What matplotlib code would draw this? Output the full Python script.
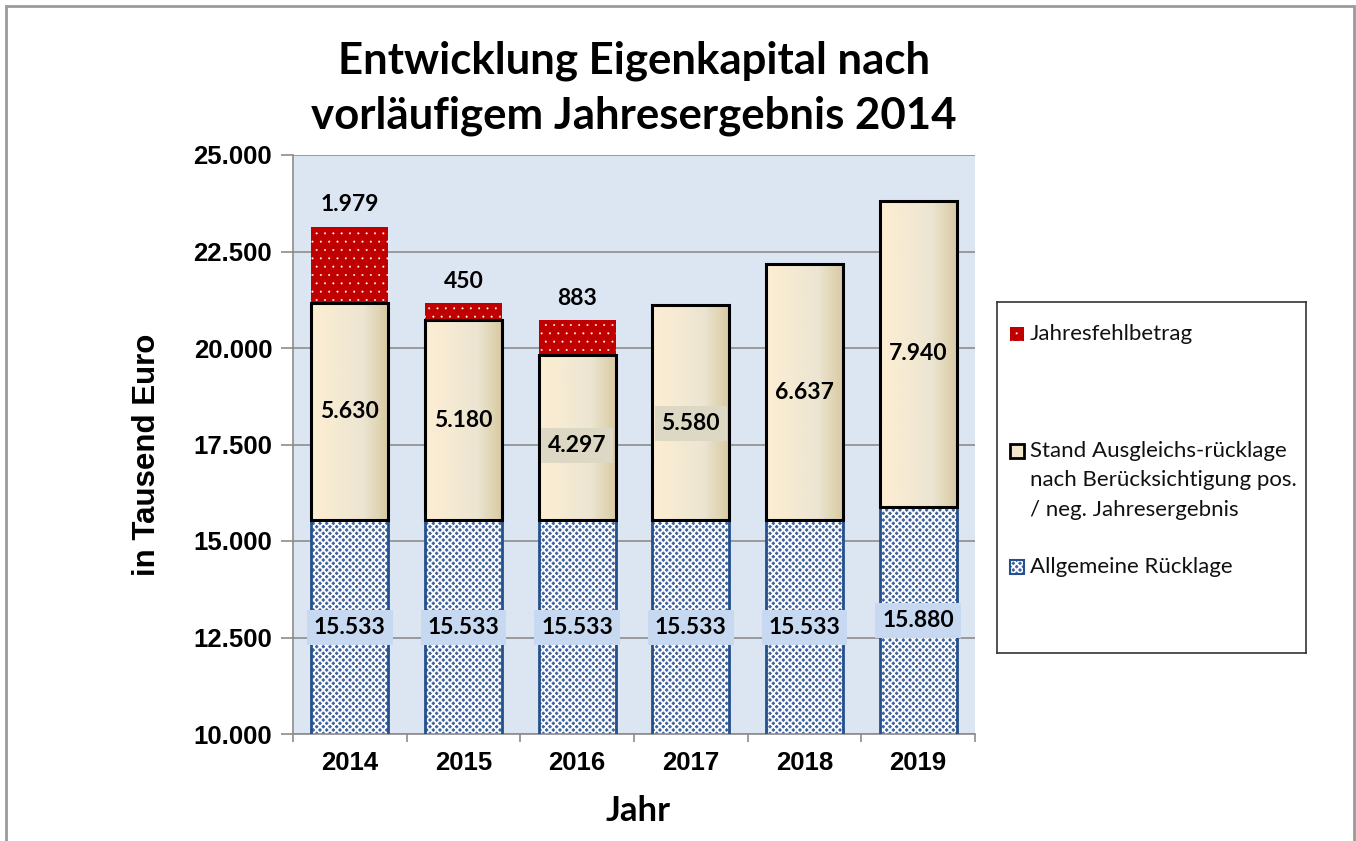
import numpy as np
import matplotlib
matplotlib.use("Agg")
import matplotlib.pyplot as plt
from matplotlib.patches import Rectangle
from matplotlib.ticker import FuncFormatter, FixedLocator
from matplotlib.colors import LinearSegmentedColormap
from matplotlib.transforms import offset_copy

# ---------------- data ----------------
years = ["2014", "2015", "2016", "2017", "2018", "2019"]
allgemeine = [15533, 15533, 15533, 15533, 15533, 15880]
ausgleich = [5630, 5180, 4297, 5580, 6637, 7940]
fehlbetrag = [1979, 450, 883, 0, 0, 0]
legend_labels = ["Jahresfehlbetrag",
                 "Stand Ausgleichs-rücklage\nnach Berücksichtigung pos.\n/ neg. Jahresergebnis",
                 "Allgemeine Rücklage"]
title_lines = ["Entwicklung Eigenkapital nach", "vorläufigem Jahresergebnis 2014"]
ylabel = "in Tausend Euro"
xlabel = "Jahr"
ymin, ymax, ystep = 10000, 25000, 2500

# ---------------- style ----------------
W, H = 1356, 841
CAL = ["Lato", "DejaVu Sans"]
ARI = ["Liberation Sans", "DejaVu Sans"]
red = "#c00000"
blue_face = "#3f62a0"
blue_edge = "#24508c"
bg = "#dce6f2"
grid_c = "#8c8c8c"
ausg_label_offset_px = [0, 0, 8, 11, 0, 0]   # manual label shifts (downwards)
ausg_label_box = [None, None, "#dcd8c3", "#dcd8c3", None, None]

fig = plt.figure(figsize=(W / 100, H / 100), dpi=100)
fig.patch.set_facecolor("white")

def fx(px):
    return px / W

def fy(py):
    return 1 - py / H

# outer border
fig.patches.append(Rectangle((fx(6), fy(845)), fx(1354) - fx(6), fy(6) - fy(845),
                             transform=fig.transFigure, fill=False,
                             edgecolor="#9a9a9a", linewidth=2))

ax = fig.add_axes([fx(293), fy(734), fx(975) - fx(293), fy(155) - fy(734)])
ax.set_facecolor(bg)
ax.set_axisbelow(True)

x = np.arange(len(years))
bw = 0.68
allg = np.array(allgemeine)
ausg = np.array(ausgleich)
fehl = np.array(fehlbetrag)

# Allgemeine Rücklage: patterned blue
plt.rcParams["hatch.linewidth"] = 1.3
ax.bar(x, allg, bw, color=blue_face, edgecolor="white", linewidth=0,
       hatch="xxxxx", zorder=2)
ax.bar(x, allg, bw, fill=False, edgecolor=blue_edge, linewidth=2, zorder=4)

# Ausgleichsrücklage: horizontal gradient
grad_cmap = LinearSegmentedColormap.from_list(
    "beige", ["#fdeed2", "#f5ead2", "#ece5d2", "#d8c9a0"])
ausg_bars = ax.bar(x, ausg, bw, bottom=allg, facecolor="none",
                   edgecolor="black", linewidth=2.2, zorder=4)
grad = np.linspace(0, 1, 256).reshape(1, -1)
for b in ausg_bars:
    im = ax.imshow(grad, cmap=grad_cmap, aspect="auto", zorder=3,
                   extent=(b.get_x(), b.get_x() + b.get_width(),
                           b.get_y(), b.get_y() + b.get_height()),
                   interpolation="bilinear")
    im.set_clip_path(b)

# Jahresfehlbetrag: red dotted
plt.rcParams["hatch.linewidth"] = 0.2
ax.bar(x, fehl, bw, bottom=allg + ausg, color=red, edgecolor="white",
       linewidth=0, hatch="..", zorder=2)

ax.set_xlim(-0.5, len(years) - 0.5)
ax.set_ylim(ymin, ymax)

# axes styling
for s in ["top", "right"]:
    ax.spines[s].set_visible(False)
for s in ["left", "bottom"]:
    ax.spines[s].set_color(grid_c)
    ax.spines[s].set_linewidth(1.2)

ax.yaxis.set_major_locator(FixedLocator(np.arange(ymin, ymax + 1, ystep)))
ax.yaxis.set_major_formatter(FuncFormatter(lambda v, p: f"{v:,.0f}".replace(",", ".")))
ax.grid(axis="y", color=grid_c, linewidth=1.2)
ax.tick_params(axis="y", length=9, width=1.2, color=grid_c, pad=6)
for lab in ax.get_yticklabels():
    lab.set_fontfamily(ARI)
    lab.set_fontweight("bold")
    lab.set_fontsize(18.5)

ax.set_xticks(x)
ax.set_xticklabels(years, fontfamily=ARI, fontweight="bold", fontsize=18.5)
ax.set_xticks(np.arange(-0.5, len(years), 1), minor=True)
ax.tick_params(axis="x", which="major", length=0, pad=12)
ax.tick_params(axis="x", which="minor", length=6, width=1.2, color=grid_c)

fig.text(fx(147), fy(455), ylabel, rotation=90, ha="center", va="center",
         fontfamily=ARI, fontweight="bold", fontsize=22.5)
fig.text(fx(638), fy(811), xlabel, ha="center", va="center",
         fontfamily=CAL, fontweight="bold", fontsize=25)

for k, line in enumerate(title_lines):
    fig.text(fx(634), fy(57 + 55 * k), line, ha="center", va="center_baseline",
             fontfamily=CAL, fontweight="bold", fontsize=31.5)

# data labels
lab_kw = dict(ha="center", va="center", fontfamily=CAL, fontweight="bold",
              fontsize=16.5, zorder=6)
for i in range(len(years)):
    # Allgemeine: centered in visible part
    yc = (ymin + allg[i]) / 2
    ax.text(x[i], yc, f"{allg[i]:,}".replace(",", "."),
            bbox=dict(boxstyle="square,pad=0.3", facecolor="#c6d9f1", edgecolor="none"),
            **lab_kw)
    # Ausgleich
    yc = allg[i] + ausg[i] / 2
    tr = offset_copy(ax.transData, fig=fig, x=0, y=-ausg_label_offset_px[i], units="dots")
    kw = dict(lab_kw)
    if ausg_label_box[i]:
        kw["bbox"] = dict(boxstyle="square,pad=0.3", facecolor=ausg_label_box[i], edgecolor="none")
    ax.text(x[i], yc, f"{ausg[i]:,}".replace(",", "."), transform=tr, **kw)
    # Fehlbetrag: above bar
    if fehl[i] > 0:
        top = allg[i] + ausg[i] + fehl[i]
        tr2 = offset_copy(ax.transData, fig=fig, x=0, y=22, units="dots")
        ax.text(x[i], top, f"{fehl[i]:,}".replace(",", "."), transform=tr2, **lab_kw)

# legend (drawn manually in its own box)
lg = fig.add_axes([fx(997), fy(653), fx(1306) - fx(997), fy(302) - fy(653)])
lg.set_xlim(0, 309)
lg.set_ylim(351, 0)
lg.set_xticks([])
lg.set_yticks([])
for s in lg.spines.values():
    s.set_color("#333333")
    s.set_linewidth(1.2)
entry_y = [32, 149, 265]
line_h = 29.5
sq = 14
handles = [
    dict(facecolor=red, hatch="..", edgecolor="white", lw=0, hlw=0.2),
    dict(facecolor="#f2e7cc", edgecolor="black", lw=2, hlw=1.0),
    dict(facecolor=blue_face, hatch="xxxxx", edgecolor="white", lw=0, hlw=1.3),
]
for yy, lab, h in zip(entry_y, legend_labels, handles):
    plt.rcParams["hatch.linewidth"] = h["hlw"]
    lg.add_patch(Rectangle((13, yy - sq / 2), sq, sq, facecolor=h["facecolor"],
                           hatch=h.get("hatch"), edgecolor=h["edgecolor"],
                           linewidth=h["lw"]))
    for k, line in enumerate(lab.split("\n")):
        lg.text(33, yy + k * line_h, line, ha="left", va="center",
                fontfamily=CAL, fontsize=16, color="#111111")
lg.add_patch(Rectangle((13, entry_y[2] - sq / 2), sq, sq, fill=False,
                       edgecolor=blue_edge, linewidth=1.5))

fig.savefig("out.png", dpi=100)
